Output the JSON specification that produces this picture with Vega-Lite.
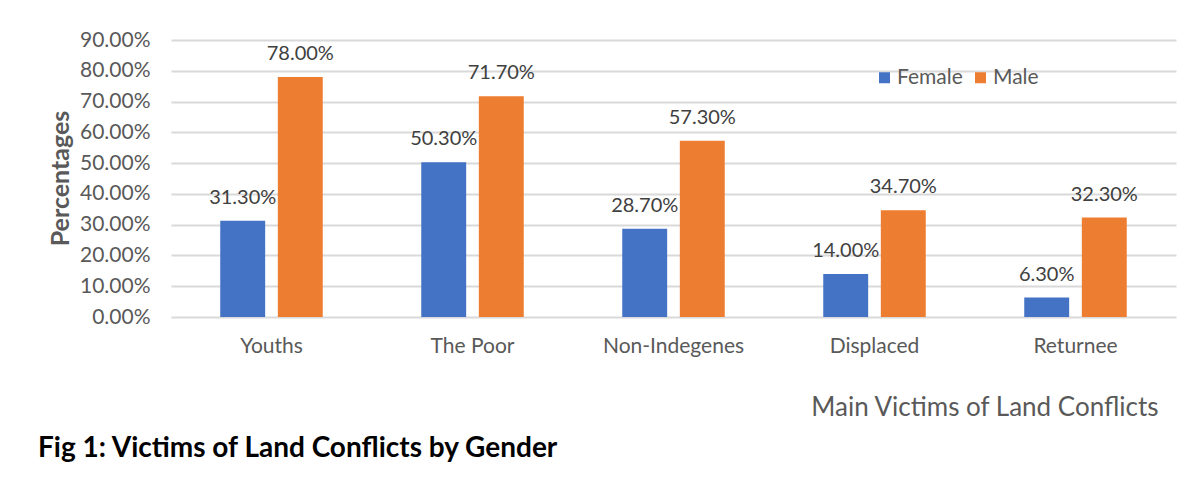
{
  "$schema": "https://vega.github.io/schema/vega-lite/v6.json",
  "width": 1005,
  "height": 277,
  "autosize": "none",
  "padding": {"left": 171, "top": 40, "right": 14, "bottom": 170},
  "background": "white",
  "config": {"view": {"stroke": null}, "font": "Lato"},
  "title": {
    "text": "Fig 1: Victims of Land Conflicts by Gender",
    "orient": "bottom",
    "anchor": "start",
    "frame": "group",
    "font": "Lato",
    "fontSize": 28,
    "fontWeight": "bold",
    "color": "#000000",
    "dx": -133,
    "offset": 15
  },
  "data": {
    "values": [
      {"category": "Youths", "gender": "Female", "value": 0.313},
      {"category": "Youths", "gender": "Male", "value": 0.78},
      {"category": "The Poor", "gender": "Female", "value": 0.503},
      {"category": "The Poor", "gender": "Male", "value": 0.717},
      {"category": "Non-Indegenes", "gender": "Female", "value": 0.287},
      {"category": "Non-Indegenes", "gender": "Male", "value": 0.573},
      {"category": "Displaced", "gender": "Female", "value": 0.14},
      {"category": "Displaced", "gender": "Male", "value": 0.347},
      {"category": "Returnee", "gender": "Female", "value": 0.063},
      {"category": "Returnee", "gender": "Male", "value": 0.323}
    ]
  },
  "encoding": {
    "x": {
      "field": "category",
      "type": "nominal",
      "sort": ["Youths", "The Poor", "Non-Indegenes", "Displaced", "Returnee"],
      "scale": {"paddingInner": 0.49, "paddingOuter": 0.245},
      "axis": {
        "domain": false,
        "ticks": false,
        "labelAngle": 0,
        "labelPadding": 18,
        "labelFontSize": 21,
        "labelColor": "#595959",
        "labelFont": "Lato",
        "title": "Main Victims of Land Conflicts",
        "titleFont": "Lato",
        "titleFontSize": 26,
        "titleFontWeight": "normal",
        "titleColor": "#595959",
        "titleX": 987,
        "titleY": 98,
        "titleAlign": "right",
        "titleAnchor": null,
        "titleBaseline": "alphabetic"
      }
    },
    "xOffset": {
      "field": "gender",
      "type": "nominal",
      "sort": ["Female", "Male"],
      "scale": {"paddingInner": 0.22, "paddingOuter": 0}
    },
    "y": {
      "field": "value",
      "type": "quantitative",
      "scale": {"domain": [0, 0.9], "nice": false},
      "axis": {
        "values": [0, 0.1, 0.2, 0.3, 0.4, 0.5, 0.6, 0.7, 0.8, 0.9],
        "format": ".2%",
        "grid": true,
        "gridColor": "#d9d9d9",
        "gridWidth": 2,
        "domain": false,
        "ticks": false,
        "labelPadding": 21,
        "labelFontSize": 21,
        "labelColor": "#595959",
        "labelFont": "Lato",
        "title": "Percentages",
        "titleFont": "Lato",
        "titleFontSize": 25,
        "titleFontWeight": "bold",
        "titleColor": "#595959",
        "titleAngle": -90,
        "titleX": -111,
        "titleY": 138,
        "titleAlign": "center",
        "titleBaseline": "middle"
      }
    }
  },
  "layer": [
    {
      "mark": {"type": "bar"},
      "encoding": {
        "color": {
          "field": "gender",
          "type": "nominal",
          "sort": ["Female", "Male"],
          "scale": {"domain": ["Female", "Male"], "range": ["#4472C4", "#ED7D31"]},
          "legend": {
            "orient": "none",
            "legendX": 703,
            "legendY": 27,
            "direction": "horizontal",
            "title": null,
            "symbolType": "square",
            "symbolSize": 121,
            "symbolStrokeWidth": 0,
            "labelFontSize": 21,
            "labelFont": "Lato",
            "labelColor": "#595959",
            "labelOffset": 2,
            "columnPadding": 7,
            "padding": 0
          }
        }
      }
    },
    {
      "mark": {"type": "text", "dy": -17, "baseline": "alphabetic", "fontSize": 20, "font": "Lato", "color": "#404040"},
      "encoding": {
        "text": {"field": "value", "type": "quantitative", "format": ".2%"}
      }
    }
  ]
}
